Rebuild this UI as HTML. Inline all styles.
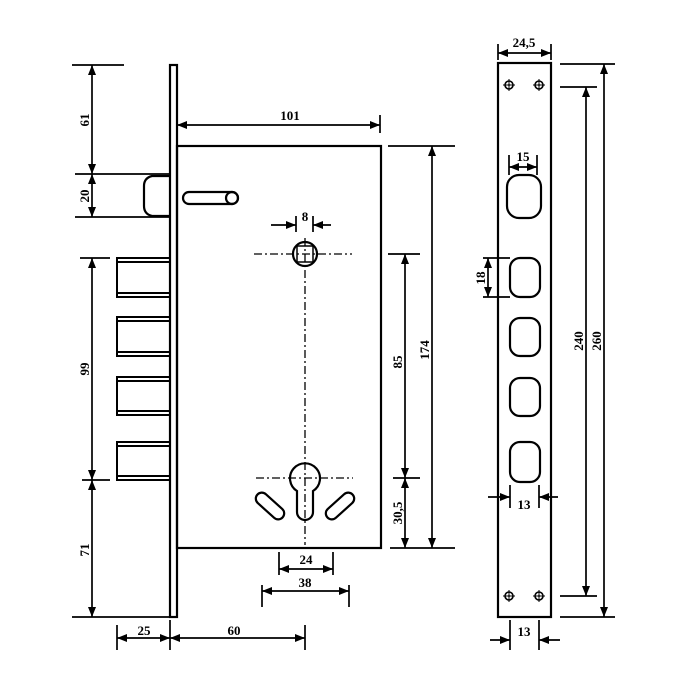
<!DOCTYPE html>
<html><head><meta charset="utf-8"><style>html,body{margin:0;padding:0;background:#fff}svg{display:block}</style></head>
<body>
<svg width="700" height="700" viewBox="0 0 700 700" xmlns="http://www.w3.org/2000/svg" font-family="Liberation Serif, serif" font-size="13" font-weight="bold">
<defs>
<marker id="a" viewBox="0 0 10 10" refX="10" refY="5" markerWidth="10" markerHeight="10" orient="auto-start-reverse" markerUnits="userSpaceOnUse"><path d="M0,1 L10,5 L0,9 Z" fill="#000"/></marker>
</defs>
<g stroke="#000" fill="none" stroke-width="2.2">
<rect x="170" y="65" width="7" height="552"/>
<rect x="177" y="146" width="204" height="402"/>
<path d="M170,176 L152,176 Q144,178 144,186 L144,206 Q144,214 152,216 L170,216"/>
<rect x="183" y="192" width="55" height="12" rx="6"/>
<circle cx="232" cy="198" r="6"/>
<g stroke-width="2">
<path d="M170,258 H117 V297 H170 M117,262 H170 M117,293 H170"/>
<path d="M170,317 H117 V356 H170 M117,321 H170 M117,352 H170"/>
<path d="M170,377 H117 V415 H170 M117,381 H170 M117,411 H170"/>
<path d="M170,442 H117 V480 H170 M117,446 H170 M117,476 H170"/>
</g>
<circle cx="305" cy="254" r="12"/>
<rect x="297" y="246" width="16" height="16" stroke-width="1.5"/>
<path d="M297,491 A15,15 0 1 1 313,491 L313,512 A8,8 0 0 1 297,512 Z"/>
<rect x="253" y="500" width="34" height="12" rx="6" transform="rotate(42 270 506)"/>
<rect x="323" y="500" width="34" height="12" rx="6" transform="rotate(-42 340 506)"/>
</g>
<g stroke="#000" stroke-width="1.3" stroke-dasharray="8,3,2,3" fill="none">
<path d="M254,254 H352 M305,238 V545 M256,478 H353"/>
</g>
<g stroke="#000" stroke-width="1.7" fill="none">
<path d="M72,65 H124 M75,174 H170 M75,217 H170 M80,258 H110 M82,480 H110 M72,617 H170"/>
<path d="M92,65 V174" marker-start="url(#a)" marker-end="url(#a)"/>
<path d="M92,174 V217" marker-start="url(#a)" marker-end="url(#a)"/>
<path d="M92,258 V480" marker-start="url(#a)" marker-end="url(#a)"/>
<path d="M92,480 V617" marker-start="url(#a)" marker-end="url(#a)"/>
<path d="M380,115 V133"/>
<path d="M177,125 H380" marker-start="url(#a)" marker-end="url(#a)"/>
<path d="M296,216 V232 M313,216 V232"/>
<path d="M271,225 H296" marker-end="url(#a)"/><path d="M331,225 H313" marker-end="url(#a)"/>
<path d="M388,146 H455 M388,254 H420 M393,478 H420 M390,548 H455"/>
<path d="M432,146 V548" marker-start="url(#a)" marker-end="url(#a)"/>
<path d="M405,254 V478" marker-start="url(#a)" marker-end="url(#a)"/>
<path d="M405,478 V548" marker-start="url(#a)" marker-end="url(#a)"/>
<path d="M279,552 V575 M333,552 V575 M262,585 V607 M349,585 V607"/>
<path d="M279,569 H333" marker-start="url(#a)" marker-end="url(#a)"/>
<path d="M262,591 H349" marker-start="url(#a)" marker-end="url(#a)"/>
<path d="M117,625 V650 M170,620 V650 M305,625 V650"/>
<path d="M117,638 H170" marker-start="url(#a)" marker-end="url(#a)"/>
<path d="M170,638 H305" marker-start="url(#a)" marker-end="url(#a)"/>
</g>
<g stroke="#000" stroke-width="2.2" fill="none">
<rect x="498" y="63" width="53" height="554"/>
<rect x="507" y="175" width="34" height="43" rx="12"/>
<rect x="510" y="258" width="30" height="39" rx="10"/>
<rect x="510" y="318" width="30" height="38" rx="10"/>
<rect x="510" y="378" width="30" height="38" rx="10"/>
<rect x="510" y="442" width="30" height="40" rx="10"/>
<g stroke-width="1.6">
<circle cx="509" cy="85" r="4"/><circle cx="539" cy="85" r="4"/>
<circle cx="509" cy="596" r="4"/><circle cx="539" cy="596" r="4"/>
<path d="M503,85 H515 M509,79 V91 M533,85 H545 M539,79 V91 M503,596 H515 M509,590 V602 M533,596 H545 M539,590 V602" stroke-width="1"/>
</g>
</g>
<g fill="#000"><circle cx="509" cy="85" r="1"/><circle cx="539" cy="85" r="1"/><circle cx="509" cy="596" r="1"/><circle cx="539" cy="596" r="1"/></g>
<g stroke="#000" stroke-width="1.7" fill="none">
<path d="M498,44 V60 M551,44 V60"/>
<path d="M498,53 H551" marker-start="url(#a)" marker-end="url(#a)"/>
<path d="M509,155 V175 M537,155 V175"/>
<path d="M509,167 H537" marker-start="url(#a)" marker-end="url(#a)"/>
<path d="M483,258 H510 M483,297 H510"/>
<path d="M488,258 V297" marker-start="url(#a)" marker-end="url(#a)"/>
<path d="M510,485 V508 M539,485 V508"/>
<path d="M488,497 H510" marker-end="url(#a)"/><path d="M558,497 H539" marker-end="url(#a)"/>
<path d="M560,64 H615 M560,87 H597 M560,596 H597 M560,617 H615"/>
<path d="M586,87 V596" marker-start="url(#a)" marker-end="url(#a)"/>
<path d="M604,64 V617" marker-start="url(#a)" marker-end="url(#a)"/>
<path d="M510,620 V650 M539,620 V650"/>
<path d="M490,640 H510" marker-end="url(#a)"/><path d="M560,640 H539" marker-end="url(#a)"/>
</g>
<g fill="#000" text-anchor="middle">
<text x="290" y="120">101</text>
<text x="305" y="221">8</text>
<text x="306" y="564">24</text>
<text x="305" y="587">38</text>
<text x="144" y="635">25</text>
<text x="234" y="635">60</text>
<text x="524" y="47">24,5</text>
<text x="523" y="161">15</text>
<text x="524" y="509">13</text>
<text x="524" y="636">13</text>
<text transform="translate(89,120) rotate(-90)">61</text>
<text transform="translate(89,196) rotate(-90)">20</text>
<text transform="translate(89,369) rotate(-90)">99</text>
<text transform="translate(89,550) rotate(-90)">71</text>
<text transform="translate(402,362) rotate(-90)">85</text>
<text transform="translate(429,350) rotate(-90)">174</text>
<text transform="translate(402,513) rotate(-90)">30,5</text>
<text transform="translate(485,278) rotate(-90)">18</text>
<text transform="translate(583,341) rotate(-90)">240</text>
<text transform="translate(601,341) rotate(-90)">260</text>
</g>
</svg>
</body></html>
